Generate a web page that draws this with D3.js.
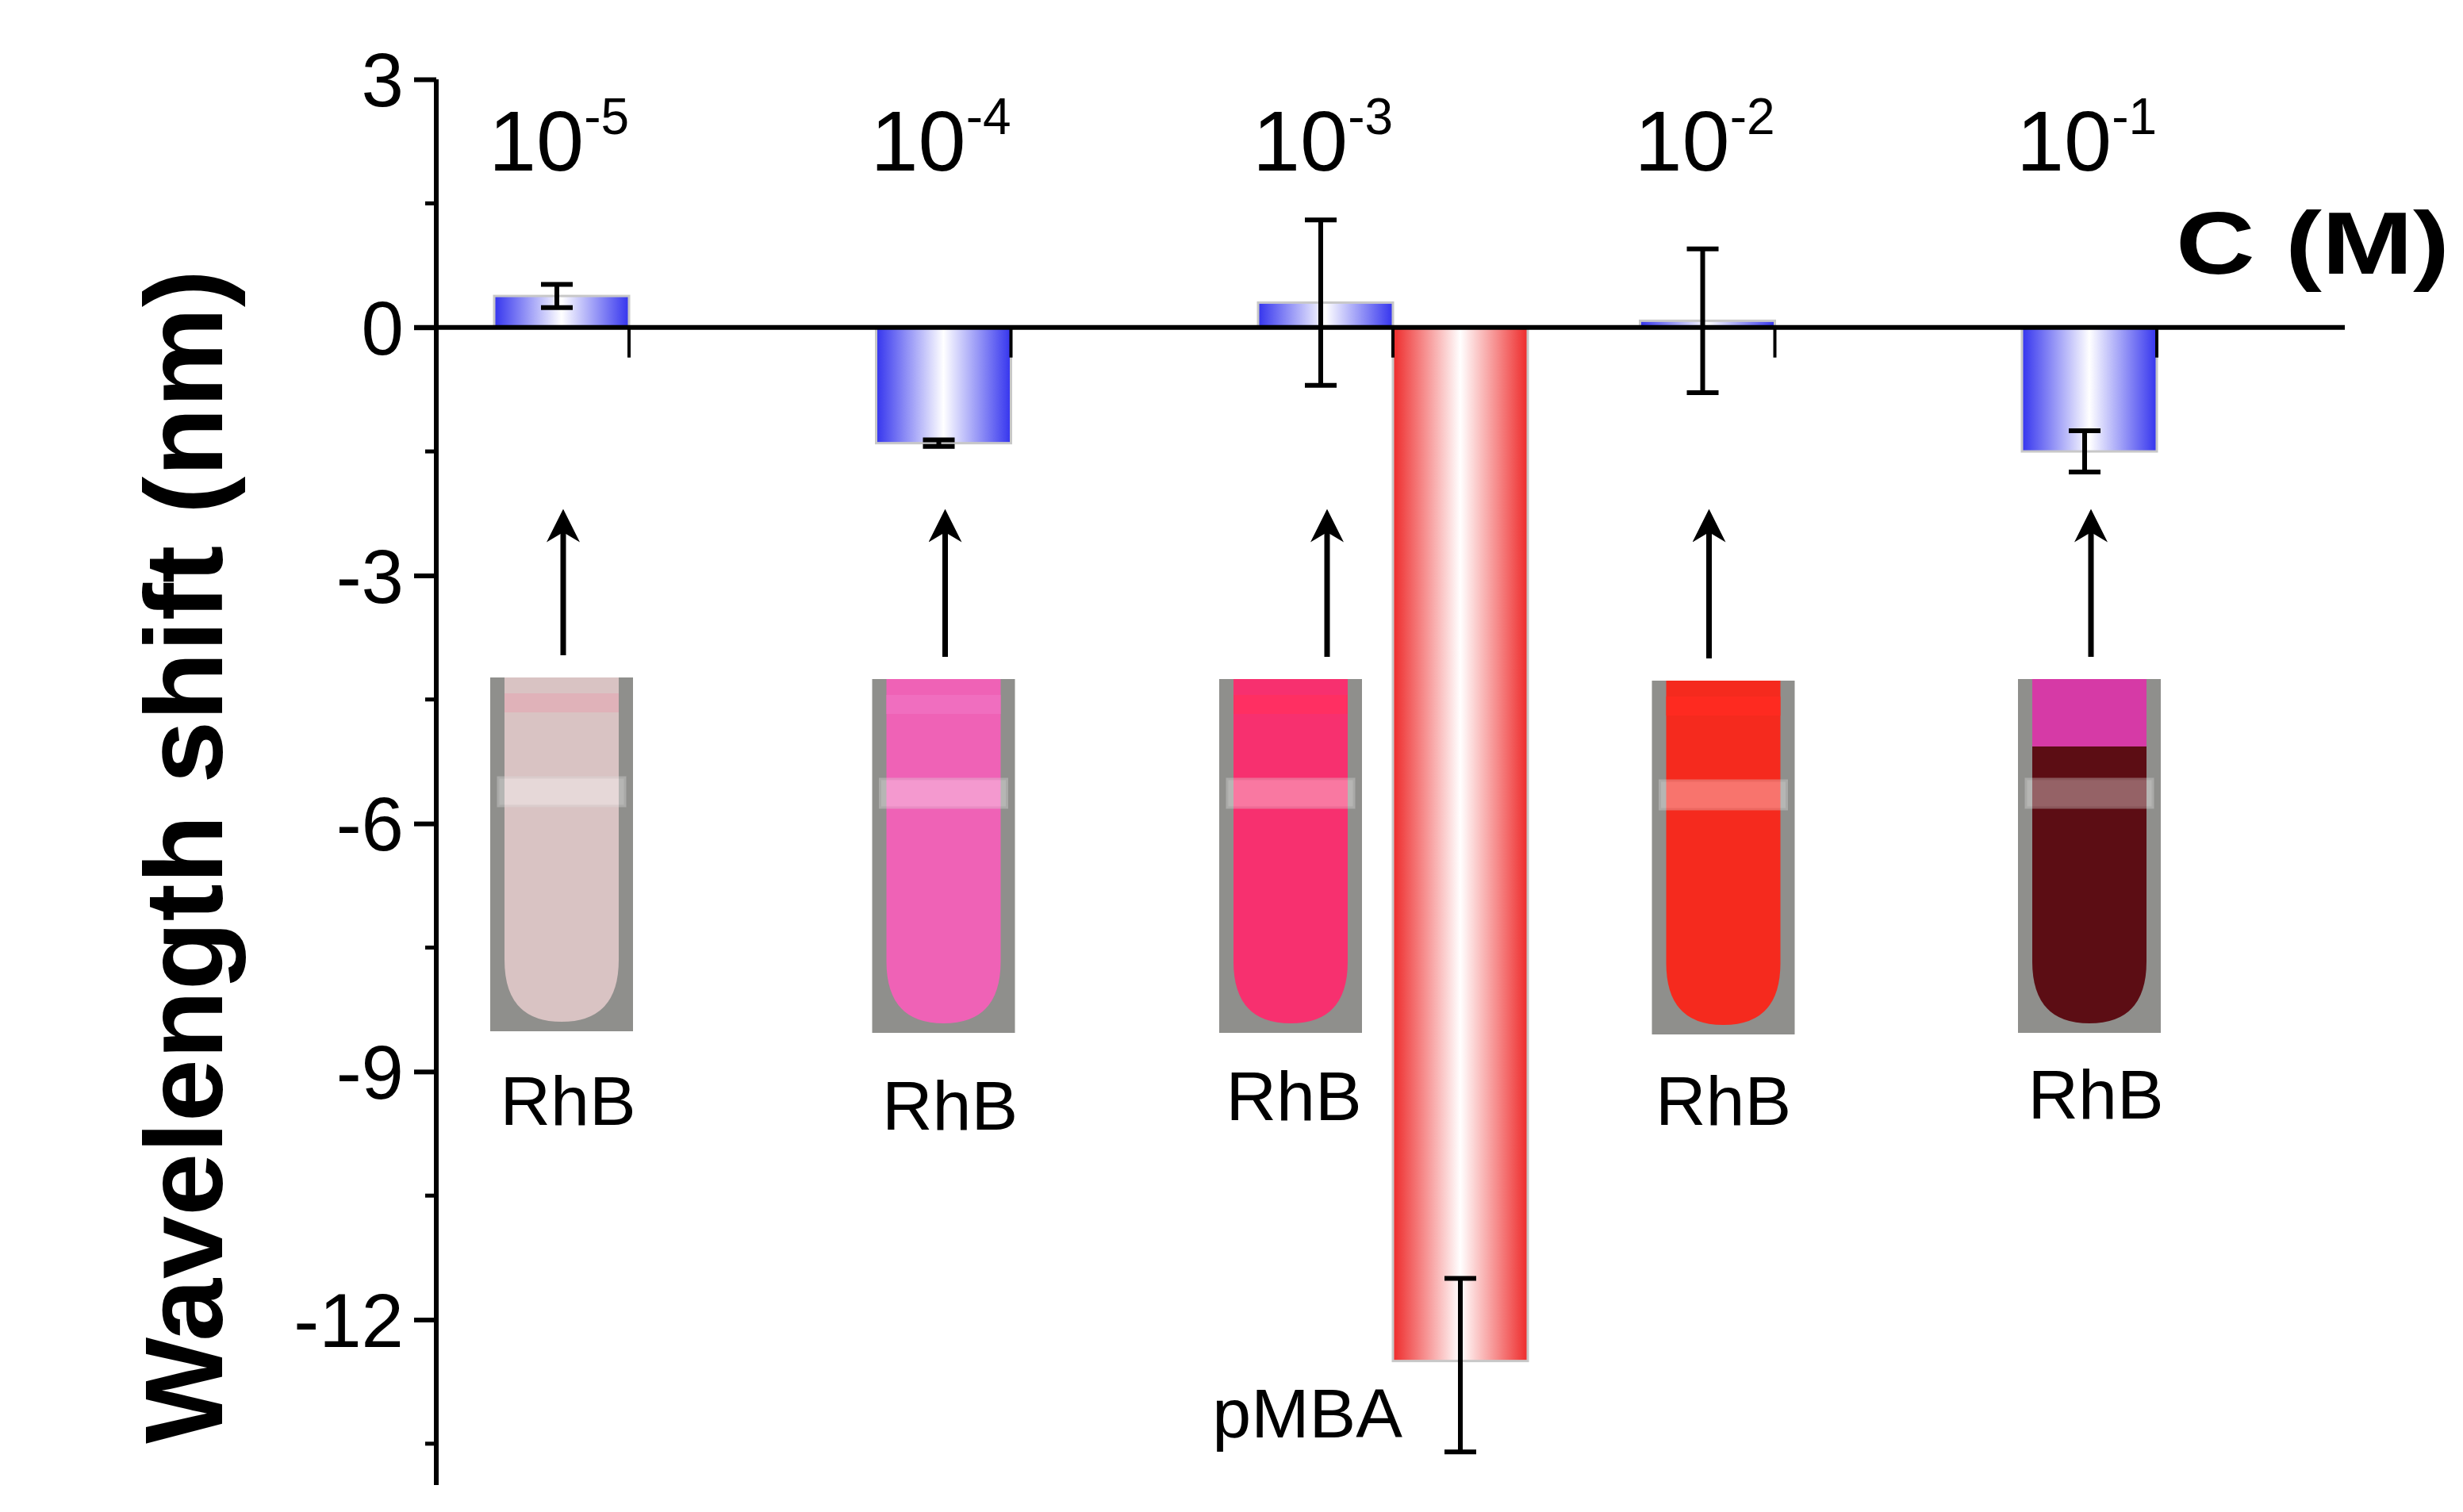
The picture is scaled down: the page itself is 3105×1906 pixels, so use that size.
<!DOCTYPE html>
<html>
<head>
<meta charset="utf-8">
<script src="https://cdn.jsdelivr.net/npm/d3@7"></script>
<style>
  body { margin: 0; background: #fff; }
  text { font-family: "Liberation Sans", Arial, sans-serif; }
</style>
</head>
<body>
<div id="chart"></div>
<script>
// concentration groups (M) and RhB wavelength shifts
const exponents = ["-5", "-4", "-3", "-2", "-1"];
const shifts = [0.38, -1.4, 0.3, 0.08, -1.5];
const errors = [0.14, 0.04, 1.0, 0.87, 0.25];
const vialColors = ["#d9c3c3", "#ef62b6", "#f7306f", "#f52a1e", "#5c0d14"];
const vialTops = ["#e0b0b8", "#f070c0", "#ff3060", "#ff2a20", "#e040b0"];
// pMBA reference bar
const pmbaShift = -12.5, pmbaError = 1.05;
const yTicks = [3, 0, -3, -6, -9, -12];

const width = 3105, height = 1906;

const svg = d3.select("#chart")
  .append("svg")
  .attr("width", width)
  .attr("height", height);

const y = d3.scaleLinear().domain([-14.0, 3]).range([1872, 100]);
const x = d3.scaleLinear().domain([0, 4]).range([708, 2634]);
const barW = 170;
const axisX = 550;

const defs = svg.append("defs");
function grad(id, c) {
  const g = defs.append("linearGradient").attr("id", id);
  g.append("stop").attr("offset", "0%").attr("stop-color", c);
  g.append("stop").attr("offset", "50%").attr("stop-color", "#fff");
  g.append("stop").attr("offset", "100%").attr("stop-color", c);
}
grad("blue", "#3434ee");
grad("red", "#ee2a2a");

// blue bars
svg.append("g").selectAll("rect")
  .data(shifts)
  .join("rect")
  .attr("x", (d, i) => x(i) - barW / 2)
  .attr("width", barW)
  .attr("y", d => Math.min(y(d), y(0)))
  .attr("height", d => Math.abs(y(d) - y(0)))
  .attr("fill", "url(#blue)")
  .attr("stroke", "#c8c8c8")
  .attr("stroke-width", 3);

// pMBA bar, right next to the 10^-3 bar
const pmbaX = x(2) + barW;
svg.append("rect")
  .attr("x", pmbaX - barW / 2)
  .attr("width", barW)
  .attr("y", y(0))
  .attr("height", y(pmbaShift) - y(0))
  .attr("fill", "url(#red)")
  .attr("stroke", "#c8c8c8")
  .attr("stroke-width", 3);

// error bars
function errorBar(cx, v, e) {
  const g = svg.append("g").attr("stroke", "#000").attr("stroke-width", 6);
  g.append("line").attr("x1", cx).attr("x2", cx).attr("y1", y(v + e)).attr("y2", y(v - e));
  [v + e, v - e].forEach(t => g.append("line")
    .attr("x1", cx - 20).attr("x2", cx + 20).attr("y1", y(t)).attr("y2", y(t)));
}
shifts.forEach((d, i) => errorBar(x(i) - 6, d, errors[i]));
errorBar(pmbaX, pmbaShift - 0.05, pmbaError);

// y axis
const yAxis = d3.axisLeft(y).tickValues(yTicks).tickSize(28).tickFormat(d3.format("d"));
const ga = svg.append("g").attr("transform", `translate(${axisX},0)`).call(yAxis);
ga.select(".domain").attr("stroke-width", 6).attr("d", `M0,${y(3)}V${y(-14)}`);
ga.selectAll(".tick line").attr("stroke-width", 6);
ga.selectAll(".tick text").attr("font-size", 96).attr("dx", -10).attr("dy", "0.35em")
  .text(d => d < 0 ? "-" + Math.abs(d) : d);
// minor ticks
svg.append("g").selectAll("line")
  .data(d3.range(-13.5, 3, 3))
  .join("line")
  .attr("x1", axisX - 14).attr("x2", axisX)
  .attr("y1", d => y(d)).attr("y2", d => y(d))
  .attr("stroke", "#000").attr("stroke-width", 5);

// zero line (C axis)
svg.append("line")
  .attr("x1", axisX - 28).attr("x2", 2956)
  .attr("y1", y(0)).attr("y2", y(0))
  .attr("stroke", "#000").attr("stroke-width", 6);
// small x ticks at bar right edges
svg.append("g").selectAll("line")
  .data(shifts)
  .join("line")
  .attr("x1", (d, i) => x(i) + barW / 2).attr("x2", (d, i) => x(i) + barW / 2)
  .attr("y1", y(0)).attr("y2", y(0) + 38)
  .attr("stroke", "#000").attr("stroke-width", 4);

// concentration labels
const cl = svg.append("g").selectAll("text")
  .data(exponents)
  .join("text")
  .attr("x", (d, i) => x(i) - 92)
  .attr("y", 215)
  .attr("font-size", 108);
cl.append("tspan").text("10");
cl.append("tspan").attr("font-size", 64).attr("dy", -46).text(d => d);

svg.append("text")
  .attr("x", 3088).attr("y", 345)
  .attr("text-anchor", "end")
  .attr("font-size", 112).attr("font-weight", "bold")
  .attr("textLength", 345).attr("lengthAdjust", "spacingAndGlyphs")
  .text("C (M)");

svg.append("text")
  .attr("transform", `translate(280,1080) rotate(-90)`)
  .attr("text-anchor", "middle")
  .attr("font-size", 140).attr("font-weight", "bold")
  .attr("textLength", 1480).attr("lengthAdjust", "spacingAndGlyphs")
  .text("Wavelength shift (nm)");

// arrows
defs.append("marker").attr("id", "head")
  .attr("viewBox", "0 0 10 10").attr("refX", 8).attr("refY", 5)
  .attr("markerWidth", 6).attr("markerHeight", 6).attr("orient", "auto")
  .append("path").attr("d", "M0,0L10,5L0,10L3,5Z").attr("fill", "#000");
const vialY = [854, 856, 856, 858, 856];
svg.append("g").selectAll("line")
  .data(shifts)
  .join("line")
  .attr("x1", (d, i) => x(i) + 2).attr("x2", (d, i) => x(i) + 2)
  .attr("y1", (d, i) => vialY[i] - 28).attr("y2", 650)
  .attr("stroke", "#000").attr("stroke-width", 7)
  .attr("marker-end", "url(#head)");

// vial photos (drawn)
const vw = 180, vh = 446;
const vials = svg.append("g").selectAll("g")
  .data(vialColors)
  .join("g")
  .attr("transform", (d, i) => `translate(${x(i) - vw / 2 + (i === 2 ? -44 : i === 3 ? 20 : 0)},${vialY[i]})`);
vials.append("rect").attr("width", vw).attr("height", vh).attr("fill", "#8f8f8c");
vials.append("path")
  .attr("d", `M18,0H${vw - 18}V${vh - 90}Q${vw - 18},${vh - 12} ${vw / 2},${vh - 12}Q18,${vh - 12} 18,${vh - 90}Z`)
  .attr("fill", d => d);
vials.append("rect").attr("x", 18).attr("y", 20).attr("width", vw - 36).attr("height", 24)
  .attr("fill", (d, i) => vialTops[i]).attr("opacity", 0.9);
vials.append("rect").attr("x", 10).attr("y", 126).attr("width", vw - 20).attr("height", 36)
  .attr("fill", "#fff").attr("opacity", 0.35).attr("stroke", "#ddd").attr("stroke-width", 3);
vials.filter((d, i) => i === 4).append("rect")
  .attr("x", 18).attr("y", 0).attr("width", vw - 36).attr("height", 85).attr("fill", "#d63aa6");

// RhB labels
const labelY = [1418, 1424, 1412, 1418, 1410];
svg.append("g").selectAll("text")
  .data(shifts)
  .join("text")
  .attr("x", (d, i) => x(i) + (i === 2 ? -40 : i === 3 ? 20 : 8))
  .attr("y", (d, i) => labelY[i])
  .attr("text-anchor", "middle")
  .attr("font-size", 88)
  .text("RhB");

svg.append("text")
  .attr("x", 1768).attr("y", 1812)
  .attr("text-anchor", "end")
  .attr("font-size", 88)
  .text("pMBA");
</script>
</body>
</html>
